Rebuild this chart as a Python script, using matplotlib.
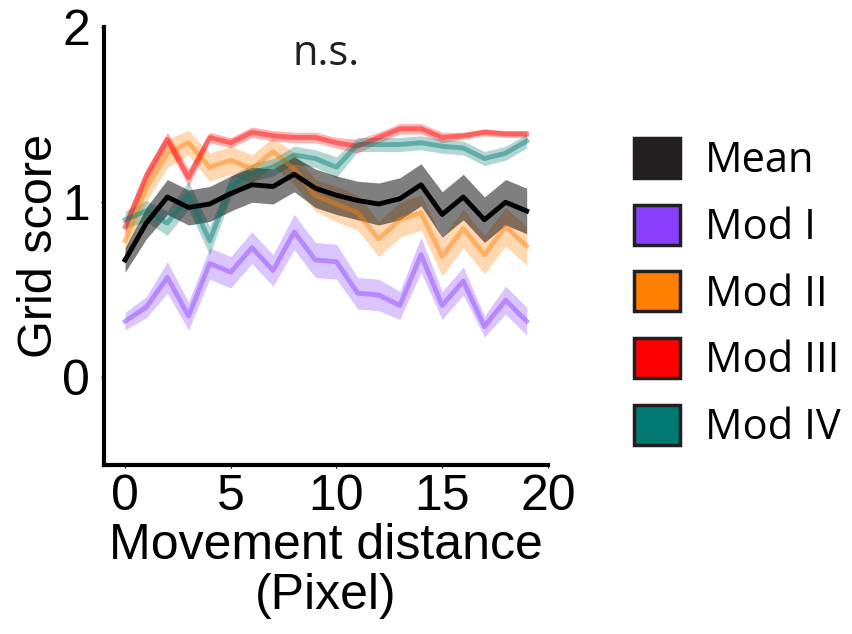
import numpy as np
import matplotlib
matplotlib.use('Agg')
import matplotlib.pyplot as plt
from matplotlib.patches import Patch

plt.rcParams['font.family'] = ['Liberation Sans', 'DejaVu Sans']

distance = np.arange(20)

mean_score = [0.67, 0.88, 1.03, 0.97, 0.99, 1.05, 1.10, 1.09, 1.16, 1.08,
              1.04, 1.01, 0.99, 1.02, 1.10, 0.93, 1.03, 0.90, 1.00, 0.95]
mean_err = [0.07, 0.09, 0.10, 0.10, 0.10, 0.10, 0.10, 0.10, 0.10, 0.11,
            0.11, 0.11, 0.12, 0.12, 0.12, 0.13, 0.13, 0.13, 0.13, 0.13]

mod1 = [0.32, 0.40, 0.57, 0.35, 0.65, 0.60, 0.74, 0.61, 0.83, 0.67,
        0.66, 0.48, 0.47, 0.41, 0.70, 0.41, 0.55, 0.29, 0.44, 0.32]
mod1_err = [0.05, 0.06, 0.09, 0.08, 0.09, 0.09, 0.09, 0.09, 0.10, 0.10,
            0.10, 0.09, 0.09, 0.08, 0.10, 0.08, 0.08, 0.06, 0.08, 0.08]

mod2 = [0.78, 1.08, 1.28, 1.34, 1.20, 1.24, 1.19, 1.29, 1.19, 1.04,
        0.99, 0.94, 0.79, 0.90, 0.94, 0.69, 0.85, 0.70, 0.86, 0.75]
mod2_err = [0.07, 0.08, 0.08, 0.07, 0.08, 0.08, 0.08, 0.08, 0.09, 0.09,
            0.10, 0.10, 0.10, 0.10, 0.10, 0.11, 0.11, 0.11, 0.11, 0.11]

mod3 = [0.86, 1.15, 1.36, 1.14, 1.37, 1.34, 1.40, 1.38, 1.37, 1.37,
        1.34, 1.32, 1.37, 1.42, 1.42, 1.37, 1.38, 1.40, 1.39, 1.39]
mod3_err = [0.04, 0.04, 0.04, 0.05, 0.03, 0.03, 0.03, 0.03, 0.03, 0.03,
            0.03, 0.04, 0.03, 0.03, 0.03, 0.03, 0.02, 0.02, 0.02, 0.02]

mod4 = [0.90, 0.95, 0.88, 1.04, 0.78, 1.09, 1.17, 1.20, 1.27, 1.25,
        1.20, 1.33, 1.33, 1.33, 1.34, 1.32, 1.31, 1.25, 1.28, 1.35]
mod4_err = [0.05, 0.06, 0.07, 0.08, 0.08, 0.06, 0.05, 0.05, 0.05, 0.05,
            0.06, 0.04, 0.04, 0.04, 0.04, 0.04, 0.04, 0.04, 0.04, 0.04]

labels = ['Mean', 'Mod I', 'Mod II', 'Mod III', 'Mod IV']
colors = ['#231f20', '#8a3ffc', '#ff7f00', '#ff0000', '#007a70']

fig = plt.figure(figsize=(8.52, 6.34), dpi=100)
ax = fig.add_axes([0.122, 0.267, 0.521, 0.69])

mods = [(mod1, mod1_err), (mod2, mod2_err), (mod3, mod3_err), (mod4, mod4_err)]
for (m, e), c in zip(mods, colors[1:]):
    m = np.array(m)
    e = np.array(e)
    ax.fill_between(distance, m - e, m + e, color=c, alpha=0.3, lw=0)
    ax.plot(distance, m, color=c, alpha=0.45, lw=3.5)

mean_score = np.array(mean_score)
mean_err = np.array(mean_err)
ax.fill_between(distance, mean_score - mean_err, mean_score + mean_err,
                color='black', alpha=0.5, lw=0)
ax.plot(distance, mean_score, color='black', lw=3.5)

ax.set_xlim(-1, 20)
ax.set_ylim(-0.5, 2)
ax.set_xticks([0, 5, 10, 15, 20])
ax.set_yticks([0, 1, 2])
ax.spines['top'].set_visible(False)
ax.spines['right'].set_visible(False)
ax.spines['left'].set_linewidth(3)
ax.spines['bottom'].set_linewidth(3)
ax.tick_params(labelsize=36, length=2, width=0.8)
ax.tick_params(axis='x', pad=5)
ax.tick_params(axis='y', pad=8)
ax.set_xlabel('Movement distance\n(Pixel)', fontsize=36, linespacing=1.1, labelpad=2)
ax.set_ylabel('Grid score', fontsize=35, labelpad=0)
ax.text(9.5, 1.85, 'n.s.', fontsize=30, color='#231f20', ha='center', va='center',
        family=['Open Sans', 'DejaVu Sans'])

handles = [Patch(facecolor=c, edgecolor='#231f20', lw=2.5) for c in colors]
fig.legend(handles, labels, loc='upper left', bbox_to_anchor=(0.72, 0.815),
           frameon=False, handlelength=1.1, handleheight=1.1,
           labelspacing=0.54, handletextpad=0.6, borderpad=0,
           prop={'family': ['Open Sans', 'DejaVu Sans'], 'size': 30})

fig.savefig('out.png', dpi=100)
